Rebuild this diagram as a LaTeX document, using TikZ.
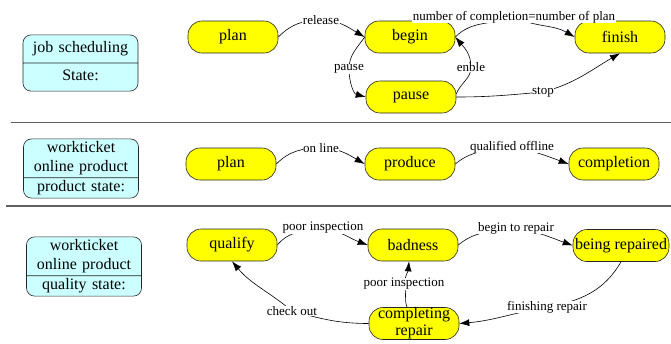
\documentclass[tikz,border=0pt]{standalone}
\usepackage{fontspec}
\setmainfont{Liberation Serif}
\usetikzlibrary{arrows.meta, shapes.multipart, backgrounds}
\definecolor{stateyellow}{RGB}{255,255,0}
\definecolor{boxcyan}{RGB}{204,255,255}
\definecolor{sepgray}{RGB}{96,96,96}

\begin{document}
\begin{tikzpicture}[
  x=1pt, y=-1pt,
  status/.style={rectangle, draw=black!85, fill=stateyellow, rounded corners=14pt, align=center, minimum width=90pt, minimum height=32pt, inner sep=2pt, font=\fontsize{16}{17}\selectfont, line width=0.6pt},
  infobox/.style={rectangle split, rectangle split parts=2, draw=black!85, fill=boxcyan, rounded corners=8pt, text width=109pt, align=center, inner xsep=3pt, inner ysep=2.6pt, font=\fontsize{16}{18.5}\selectfont, line width=0.6pt},
  edgelabel/.style={fill=white, inner sep=0.5pt, font=\fontsize{13}{15}\selectfont},
  arrow/.style={-{Latex[length=10pt,width=7pt]}, line width=0.6pt},
  sepline/.style={draw=sepgray, line width=1.5pt}
]
\useasboundingbox (0,0) rectangle (671,343);

% Info boxes
\node[infobox, inner ysep=4.5pt] (jobbox) at (80.5,63) {job scheduling\strut \nodepart{second} State:\strut};
\node[infobox] (productbox) at (81,168.5) {workticket\\online product \nodepart{second} product state:};
\node[infobox] (qualitybox) at (84,266.5) {workticket\\online product \nodepart{second} quality state:};

% Job scheduling states
\node[status] (plan) at (233,37) {plan};
\node[status] (begin) at (410,37) {begin};
\node[status] (finish) at (620,37) {finish};
\node[status] (pause) at (411,97) {pause};

% Product states
\node[status] (plan2) at (231,164) {plan};
\node[status] (produce) at (410,164) {produce};
\node[status] (completion) at (614,164) {completion};

% Quality states
\node[status] (qualify) at (232,245) {qualify};
\node[status] (badness) at (413,245) {badness};
\node[status] (repaired) at (621,245.5) {being repaired};
\node[status, inner sep=0pt, font=\fontsize{16}{17}\selectfont] (completing) at (414,323.5) {completing\\repair};

% Edge labels
\node[edgelabel] (lrelease) at (321,20) {release};
\node[edgelabel] (lnumber) at (514,17) {number of completion=number of plan};
\node[edgelabel] (lpause) at (349,69) {pause};
\node[edgelabel] (lenble) at (471,67) {enble};
\node[edgelabel] (lstop) at (543,92) {stop};
\node[edgelabel] (lonline) at (321,148) {on line};
\node[edgelabel] (lqualified) at (512,147) {qualified offline};
\node[edgelabel] (lpoor) at (323,228) {poor inspection};
\node[edgelabel] (lrepair) at (516,228) {begin to repair};
\node[edgelabel] (lfinishing) at (547,307) {finishing repair};
\node[edgelabel] (lpoorback) at (404,284) {poor inspection};
\node[edgelabel] (lcheck) at (292,311) {check out};

% Arrows
\begin{scope}[on background layer]
\draw[arrow] (plan.east) to[out=45,in=180] (lrelease.center) to[out=0,in=150] (begin.west);
\draw[arrow] (begin.east) to[out=45,in=200] (lnumber.center) to[out=-25,in=150] (finish.west);
\draw[arrow] (begin.west) to[out=235,in=90] (lpause.center) to[out=270,in=165] (pause.west);
\draw[arrow] ([yshift=3pt]pause.east) to[out=70,in=270] (lenble.center) to[out=90,in=-50] (begin.east);
\draw[arrow] (pause.east) to[out=0,in=185] (lstop.center) to[out=15,in=210] (finish.south);
\draw[arrow] (plan2.east) to[out=45,in=180] (lonline.center) to[out=0,in=150] (produce.west);
\draw[arrow] (produce.east) to[out=40,in=190] (lqualified.center) to[out=-10,in=160] (completion.west);
\draw[arrow] (qualify.east) to[out=50,in=190] (lpoor.center) to[out=-10,in=160] (badness.west);
\draw[arrow] (badness.east) to[out=40,in=190] (lrepair.center) to[out=-10,in=160] (repaired.west);
\draw[arrow] (repaired.south) to[out=-120,in=10] (lfinishing.center) to[out=190,in=5] (completing.east);
\draw[arrow] ([xshift=-7pt]completing.north) to[out=110,in=-70] (lpoorback.center) to[out=80,in=-95] ([xshift=-4pt]badness.south);
\draw[arrow] (completing.west) to[out=180,in=-15] (lcheck.center) to[out=140,in=-50] (qualify.south);
\end{scope}

% Section separators
\draw[sepline] (11,122.7) -- (671,122.7);
\draw[sepline] (6,206) -- (671,206);

\end{tikzpicture}
\end{document}
